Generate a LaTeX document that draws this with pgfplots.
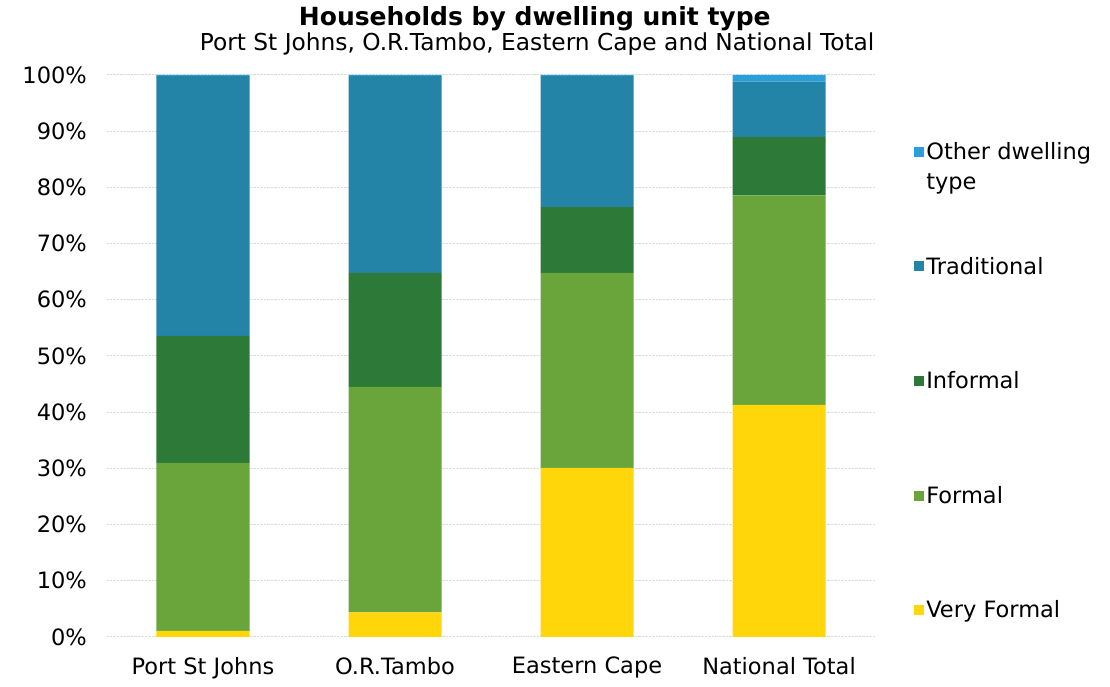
\documentclass[border=0pt]{standalone}
\usepackage{fontspec}
\setmainfont{DejaVu Sans}
\usepackage{pgfplots}
\pgfplotsset{compat=1.18}
\definecolor{cVF}{HTML}{FFD60A}
\definecolor{cF}{HTML}{6AA53C}
\definecolor{cI}{HTML}{2D7A38}
\definecolor{cT}{HTML}{2484A8}
\definecolor{cO}{HTML}{2B9FDA}
\begin{document}
\begin{tikzpicture}[x=1pt,y=1pt]
\path[use as bounding box] (-107,-50) rectangle (1003,637);
\begin{axis}[
  at={(0,0)}, anchor=south west,
  scale only axis, width=768pt, height=562pt,
  ybar stacked, bar width=93pt,
  xmin=-0.5, xmax=3.5, ymin=0, ymax=100,
  xtick=data, xticklabels={Port St Johns,O.R.Tambo,Eastern Cape,National Total},
  ytick={0,10,...,100},
  yticklabel={\pgfmathprintnumber{\tick}\%},
  /pgf/number format/assume math mode=true,
  axis line style={draw=none},
  major tick length=0pt,
  ymajorgrids, grid style={gray!30, densely dotted, line width=1pt},
  tick label style={font=\fontsize{22.5}{27}\selectfont},
  yticklabel style={inner sep=0pt, xshift=-20pt},
  xticklabel style={inner sep=0pt, yshift=-20pt},
  title={Households by dwelling unit type},
  title style={font=\fontsize{25}{30}\selectfont\bfseries, at={(axis description cs:0.557,1)}, anchor=base, yshift=43pt, inner sep=0pt},
  extra description/.code={
    \node[font=\fontsize{23.3}{28}\selectfont, anchor=base, inner sep=0pt] at ([yshift=24pt]axis description cs:0.56,1) {Port St Johns, O.R.Tambo, Eastern Cape and National Total};
  },
  legend style={draw=none, at={(1.047,0.4555)}, anchor=west, row sep=92pt,
     font=\fontsize{22.5}{30}\selectfont, nodes={inner sep=2pt}},
  legend cell align=left,
  reverse legend,
  legend image code/.code={\fill[#1] (0pt,-5pt) rectangle (10pt,5pt);},
]
\addplot[fill=cVF, draw=none] coordinates {(0,1.1) (1,4.4) (2,30.1) (3,41.3)};
\addlegendentry{Very Formal}
\addplot[fill=cF, draw=none] coordinates {(0,29.9) (1,40.1) (2,34.7) (3,37.3)};
\addlegendentry{Formal}
\addplot[fill=cI, draw=none] coordinates {(0,22.6) (1,20.3) (2,11.7) (3,10.4)};
\addlegendentry{Informal}
\addplot[fill=cT, draw=none] coordinates {(0,46.2) (1,35.0) (2,23.3) (3,9.8)};
\addlegendentry{Traditional}
\addplot[fill=cO, draw=none] coordinates {(0,0.2) (1,0.2) (2,0.2) (3,1.2)};
\addlegendentry{\smash{\rlap{\raisebox{-30pt}{type}}}Other dwelling}
\end{axis}
\end{tikzpicture}
\end{document}
